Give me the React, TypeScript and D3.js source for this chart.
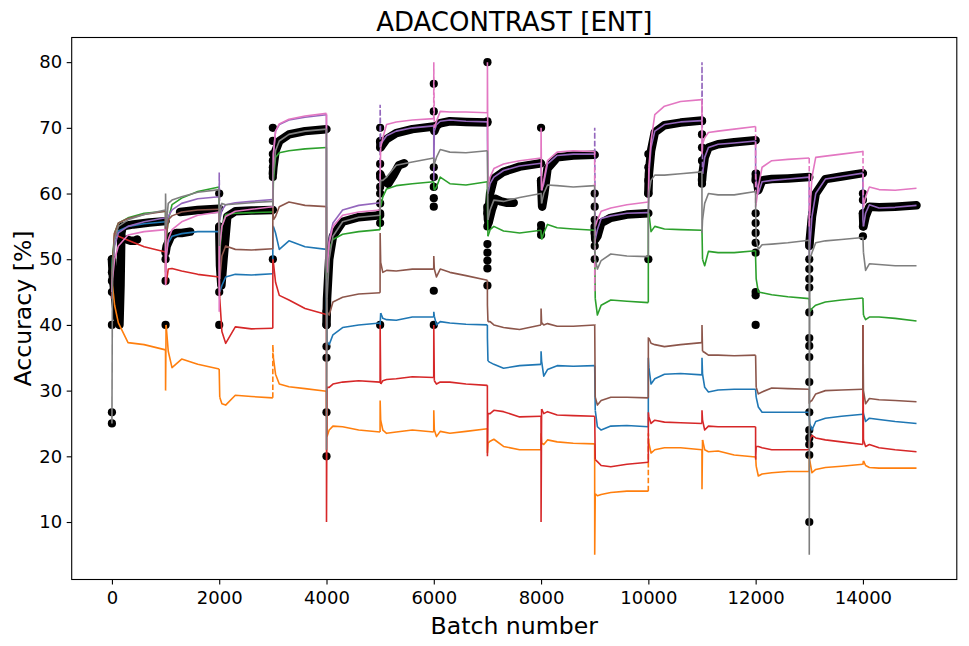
import React, { useEffect, useRef } from 'react';
import * as d3 from 'd3';

// batch offsets inside each 1000-batch segment at which values were read
const OFFSETS = [0, 10, 50, 120, 300, 600, 999];
const SEG_STARTS = [0, 1000, 2000, 3000, 4000, 5000, 6000, 7000, 8000, 9000, 10000, 11000, 12000, 13000, 14000];
const X_TICKS = [0, 2000, 4000, 6000, 8000, 10000, 12000, 14000];
const Y_TICKS = [10, 20, 30, 40, 50, 60, 70, 80];

const BLUE = [
  [48, 50, 53, 54.3, 55, 55.4, 55.7],
  [50, 51, 52.5, 53.5, 53.9, 54.2, 54.2],
  [46, 45, 46, 47.3, 47.7, 47.6, 47.8],
  [55, 55, 54, 51.5, 52.8, 51.9, 51.5],
  [42, 37.5, 37, 38.5, 39.6, 40, 40.3],
  [40, 41.8, 41, 40.8, 40.7, 41.2, 41.2],
  [42, 41.3, 40, 40.5, 40.3, 40.1, 40],
  [38, 34.5, 34.3, 34, 33.4, 33.8, 34],
  [36, 34.5, 32.2, 33.2, 33.8, 33.7, 33.8],
  [33.5, 27, 24.5, 24, 24.6, 24.7, 24.5],
  [35, 33.5, 31, 31.8, 32.5, 32.6, 32.4],
  [35, 32.5, 30.5, 29.8, 30.1, 30.2, 30.2],
  [30, 29, 27.5, 26.7, 26.7, 26.7, 26.7],
  [26, 25, 24, 25.3, 25.8, 26.1, 26.4],
  [27, 26.5, 25.3, 25.8, 25.6, 25.3, 25],
];
const ORANGE = [
  [47, 46, 43, 40.3, 37.3, 37, 36.2],
  [30, 40, 36, 33.5, 34.8, 34, 33.3],
  [33, 29, 28, 27.8, 29.3, 29.1, 28.9],
  [37, 35, 32.5, 31, 30.6, 30.3, 29.9],
  [28, 23, 24, 24.6, 24.5, 24, 23.7],
  [28.5, 25.5, 24, 23.5, 23.7, 24, 23.7],
  [27, 24, 23, 23.8, 23.5, 23.8, 24.2],
  [20.5, 22, 22.3, 22.6, 21.5, 21, 21],
  [23.5, 22, 21.8, 22.5, 22.2, 22, 21.9],
  [5, 14.3, 14, 14.2, 14.5, 14.7, 14.7],
  [23.5, 22, 20.5, 21, 21.3, 21.3, 21],
  [15, 22.5, 21, 20.7, 20.8, 20.2, 19.9],
  [20, 18.5, 17, 17.3, 17.5, 17.7, 17.7],
  [20, 19.3, 17.5, 18, 18.3, 18.5, 18.8],
  [18.8, 19.3, 18.6, 18.3, 18.2, 18.2, 18.2],
];
const GREEN = [
  [47, 50, 54, 55.5, 56.3, 57, 57.3],
  [52, 53, 56, 58.3, 59.3, 60.3, 61],
  [50, 51, 55, 56.8, 57, 57.1, 57.2],
  [57, 62, 65.5, 66.2, 66.5, 66.8, 67],
  [47, 48, 51.5, 53, 53.8, 54.2, 54.5],
  [58, 58, 59.5, 60.7, 61.2, 61.5, 61.8],
  [61, 60.5, 61, 62.5, 61.5, 61.3, 61.8],
  [58, 53.5, 54.5, 55, 54.3, 54, 54.4],
  [54, 53, 54, 55.3, 54.8, 54.6, 54.4],
  [52, 44, 41.5, 43, 43.8, 43.6, 43.4],
  [57, 57, 54.2, 55, 54.6, 54.5, 54.4],
  [54.4, 50, 49, 51.2, 51, 51, 51.3],
  [50, 47, 45, 44.9, 44.6, 44.3, 44],
  [44, 42, 42.5, 43, 43.5, 43.8, 44.1],
  [44, 41.5, 40.8, 41.2, 41.2, 41, 40.6],
];
const RED = [
  [44, 48, 54, 53.5, 52.9, 51.9, 51.1],
  [46.5, 46.2, 48.5, 48.6, 48.2, 47.7, 47.3],
  [47, 44, 39, 37.2, 39.7, 39.4, 39.5],
  [50, 49.5, 46.5, 44.5, 43.8, 42.5, 41.6],
  [10, 30.5, 30.5, 31, 31.3, 31.5, 31.3],
  [40, 31, 31.5, 31.7, 31.8, 32.1, 32],
  [40, 31.5, 31, 31.3, 31.3, 31, 30.8],
  [20, 26.5, 26.5, 27, 26.8, 26, 26.1],
  [10, 27.2, 26.5, 26.8, 26.3, 26.2, 26.1],
  [26, 19.5, 19.2, 18.6, 18.4, 18.8, 19.1],
  [26.7, 26, 25, 25.5, 25.2, 25.1, 25],
  [27, 25.5, 24, 24.6, 24.5, 24.5, 24.5],
  [19.5, 21.5, 21.5, 21.3, 21, 21, 21],
  [22, 22.5, 23.2, 22.8, 22.5, 22.2, 21.8],
  [40, 22.5, 21.5, 21.8, 21.3, 21, 20.7],
];
const PURPLE = [
  [46, 48, 52, 54, 55, 55.7, 56.3],
  [54, 54.5, 56.5, 57.5, 58.5, 59.2, 59.5],
  [63.2, 56, 57.5, 58.3, 58.6, 58.8, 59.1],
  [59, 66, 69.5, 70.5, 71.2, 71.6, 72],
  [50, 48, 53, 55.5, 57.5, 58.2, 58.6],
  [73.5, 67.5, 68, 68.8, 69.5, 70, 70.3],
  [62, 69.5, 70.5, 71, 71.2, 71, 70.9],
  [68, 60, 61.5, 62.5, 63.5, 64.2, 64.6],
  [64, 60.5, 61.5, 64.5, 65.8, 66, 66],
  [70, 53, 54.5, 56.2, 56.6, 57, 57.1],
  [57, 63, 67, 69.5, 70.5, 70.9, 71.1],
  [80, 63, 65.5, 67, 67.5, 67.7, 68],
  [63, 62, 60, 61.8, 62, 62.2, 62.5],
  [50, 52, 56.5, 60, 62.2, 62.6, 63.1],
  [56, 55, 57, 58.3, 57.8, 57.9, 58.2],
];
const BROWN = [
  [45, 49, 54, 55.5, 56.2, 56.8, 57.3],
  [48, 53, 56, 56.6, 57.2, 57.5, 57.6],
  [48, 47, 50.5, 52, 51.5, 51.4, 51.6],
  [59.3, 56, 56.5, 58, 58.7, 58.2, 58],
  [45, 42, 41.5, 43.5, 44.2, 44.7, 44.9],
  [54, 49.5, 48, 48.3, 48.2, 48.5, 48.5],
  [50.5, 48.5, 47.3, 48.5, 48, 47.5, 46.8],
  [43, 40.5, 40.5, 40, 39.6, 39.3, 40],
  [42.5, 40.3, 40, 40.2, 39.8, 39.8, 40],
  [40, 29, 27.8, 28.5, 29, 29, 28.9],
  [38, 38, 37.2, 37, 36.7, 37, 37.3],
  [40, 36, 35.8, 35.4, 35.4, 35.3, 35.4],
  [35, 30.5, 29.5, 29.8, 30.4, 30.3, 30.2],
  [28, 28.3, 28.5, 29.5, 30, 30.1, 30.2],
  [40, 30, 28, 28.8, 28.6, 28.5, 28.3],
];
const PINK = [
  [45, 47, 50, 52, 53.7, 54.2, 54.5],
  [46, 50, 53, 54.5, 55.7, 56.7, 57.2],
  [42, 52, 55, 56.5, 57.3, 57.6, 58],
  [58, 66, 69.5, 70.6, 71.3, 71.8, 72.2],
  [49, 48, 52.5, 55, 56.7, 57.2, 57.5],
  [62, 67, 68.5, 70.5, 70.9, 71.2, 71.4],
  [80, 70, 71, 72.5, 72.4, 72.4, 72.3],
  [80, 61, 62.5, 63.8, 64.5, 65, 65.4],
  [70, 60.5, 62, 65, 66.3, 66.5, 66.4],
  [45, 55, 56, 57.3, 57.8, 58.3, 58.7],
  [58.7, 64, 68, 72, 73.3, 74, 74.3],
  [66, 67.5, 68.5, 69.3, 69.5, 69.8, 70.2],
  [58, 58.5, 61, 64, 65, 65.2, 65.4],
  [55, 57, 62.5, 65.5, 65.7, 66, 66.4],
  [66.5, 58, 59.5, 61, 60.6, 60.5, 60.8],
];
const GRAY = [
  [25, 48, 53, 55, 56, 56.8, 57.5],
  [60, 55, 58.5, 59, 59.5, 60.2, 60.6],
  [52, 57, 58.5, 58.3, 58.4, 58.6, 58.8],
  [58, 63, 66.5, 68, 69, 69.5, 69.8],
  [21, 44, 50, 53.5, 55.7, 56.4, 56.7],
  [60, 62, 62, 62.5, 64.3, 64.8, 65.4],
  [64, 64.5, 65.5, 66.7, 66.3, 66.2, 66.5],
  [66, 56, 57.5, 59, 58.8, 59.4, 60],
  [60, 58.5, 60, 61.3, 61.2, 61, 61.2],
  [52, 50, 48.5, 49.8, 50.8, 50.5, 50.4],
  [57, 60, 62, 62.8, 62.8, 63, 63.3],
  [54, 56, 58.5, 60, 59.8, 59.8, 60.3],
  [58, 53, 51.5, 52.2, 52.3, 52.5, 52.9],
  [5, 50, 51, 52.5, 52.8, 53, 53.3],
  [53.3, 51, 48.3, 49.3, 49.2, 49, 49],
];

// thick black marker traces: [batch, accuracy]
const BLACK_TRACKS: [number, number][][] = [
  [[0, 50], [20, 47], [60, 44], [100, 41], [140, 40], [160, 46], [175, 54], [200, 55], [400, 55.3], [700, 55.6], [999, 55.8]],
  [[280, 53], [350, 52.8], [420, 52.8], [470, 53]],
  [[1000, 51], [1020, 52], [1100, 53.5], [1200, 54], [1300, 54], [1460, 54.2]],
  [[1270, 57.2], [1600, 57.5], [1999, 57.7]],
  [[2000, 55], [2015, 49], [2040, 46], [2080, 50], [2150, 56.5], [2300, 57.3], [2600, 57.4], [2999, 57.5]],
  [[3000, 63], [3010, 64], [3050, 66.5], [3120, 68], [3300, 69], [3600, 69.5], [3999, 69.8]],
  [[4000, 40], [4010, 44], [4050, 50], [4120, 53.5], [4300, 55.7], [4600, 56.4], [4999, 56.7]],
  [[5000, 68], [5010, 67], [5050, 67.5], [5120, 68.3], [5300, 69.2], [5600, 69.8], [5999, 70.2]],
  [[5000, 63], [5050, 62], [5150, 61.5], [5250, 62.8], [5350, 64.3], [5450, 64.6]],
  [[6000, 70], [6010, 69.5], [6050, 70.3], [6120, 70.7], [6300, 71], [6600, 70.9], [6999, 70.8]],
  [[7000, 58], [7010, 56], [7050, 60], [7120, 62.3], [7300, 63.3], [7600, 64.1], [7999, 64.6]],
  [[7020, 55.5], [7080, 57.5], [7150, 59.2], [7250, 58.8], [7350, 58.6], [7490, 58.6]],
  [[8000, 62], [8020, 58], [8060, 60], [8120, 63.8], [8300, 65.5], [8600, 65.8], [8999, 65.9]],
  [[9000, 55], [9010, 53], [9050, 53.5], [9120, 55.5], [9300, 56.3], [9600, 56.8], [9999, 57]],
  [[10000, 60], [10010, 63], [10050, 66.5], [10120, 69.3], [10300, 70.4], [10600, 70.8], [10999, 71.1]],
  [[11000, 62], [11010, 63], [11050, 65.5], [11120, 67], [11300, 67.5], [11600, 67.8], [11999, 68.1]],
  [[12000, 62], [12010, 63], [12050, 60.5], [12120, 62], [12300, 62.2], [12600, 62.3], [12999, 62.5]],
  [[13000, 52], [13010, 53], [13050, 56.5], [13120, 60], [13300, 62.2], [13600, 62.6], [13999, 63.1]],
  [[14000, 57], [14010, 55], [14050, 56.5], [14120, 58], [14300, 57.9], [14600, 58], [14999, 58.2]],
];

// isolated black markers at segment starts: [batch, accuracies]
const BLACK_DOTS: [number, number[]][] = [
  [0, [25, 26.7, 40, 45, 46.7, 48, 50]],
  [1000, [40, 46.7, 50]],
  [2000, [60, 45, 40]],
  [3000, [70, 68, 66, 65, 64, 62.5, 50]],
  [4000, [20, 26.7, 35, 36.7, 40, 42]],
  [5000, [70, 67, 64.5, 62.5, 61, 60, 58.5, 57, 55.5, 40]],
  [6000, [76.7, 72.5, 64, 62.5, 61, 59.3, 58, 45.2, 40]],
  [7000, [80, 71, 57, 55, 52.3, 51, 49.8, 48.6, 46]],
  [8000, [70, 62, 55.2, 54.5, 53.7]],
  [9000, [60, 58, 56, 54, 52, 50]],
  [10000, [60, 62, 64, 66, 50]],
  [11000, [71, 69, 67, 65, 63, 61.5]],
  [12000, [63, 57, 55.5, 54, 52.5, 51, 45, 44.5, 40]],
  [13000, [52.5, 50, 48.5, 47, 45.7, 41.9, 38, 36.8, 35.1, 31.3, 26.7, 24, 22.8, 21.8, 20.2, 10]],
  [14000, [60, 59, 57, 55, 53.5]],
];

const SERIES = [
  { color: '#1f77b4', values: BLUE, dashed: [] as number[] },
  { color: '#ff7f0e', values: ORANGE, dashed: [3, 10] },
  { color: '#2ca02c', values: GREEN, dashed: [] as number[] },
  { color: '#d62728', values: RED, dashed: [] as number[] },
  { color: '#9467bd', values: PURPLE, dashed: [2, 5, 9, 11] },
  { color: '#8c564b', values: BROWN, dashed: [] as number[] },
  { color: '#e377c2', values: PINK, dashed: [6, 9, 12, 13, 14] },
  { color: '#7f7f7f', values: GRAY, dashed: [] as number[] },
];

const W = 969;
const H = 646;
const LEFT = 71.7;
const RIGHT = 956.8;
const TOP = 37.5;
const BOTTOM = 579.5;
const FONT = 'DejaVu Sans, sans-serif';

export default function App() {
  const ref = useRef<SVGSVGElement>(null);

  useEffect(() => {
    const svg = d3.select(ref.current);
    svg.selectAll('*').remove();

    const x = d3.scaleLinear().domain([-750, 15750]).range([LEFT, RIGHT]);
    const y = d3.scaleLinear().domain([1.25, 83.75]).range([BOTTOM, TOP]);
    const line = d3
      .line<[number, number]>()
      .x((d) => x(d[0]))
      .y((d) => y(d[1]));

    svg
      .append('defs')
      .append('clipPath')
      .attr('id', 'plotclip')
      .append('rect')
      .attr('x', LEFT)
      .attr('y', TOP)
      .attr('width', RIGHT - LEFT)
      .attr('height', BOTTOM - TOP);

    const g = svg.append('g').attr('clip-path', 'url(#plotclip)');

    BLACK_TRACKS.forEach((t) => {
      g.append('path')
        .attr('d', line(t) || '')
        .attr('fill', 'none')
        .attr('stroke', '#000')
        .attr('stroke-width', 8.5)
        .attr('stroke-linejoin', 'round')
        .attr('stroke-linecap', 'round');
    });
    BLACK_DOTS.forEach(([b, vals]) => {
      vals.forEach((v) => {
        g.append('circle').attr('cx', x(b)).attr('cy', y(v)).attr('r', 4.1).attr('fill', '#000');
      });
    });

    SERIES.forEach((s) => {
      SEG_STARTS.forEach((start, k) => {
        const pts: [number, number][] = OFFSETS.map((o, j) => [start + o, s.values[k][j]]);
        const conn: [number, number][] =
          k > 0 ? [[SEG_STARTS[k - 1] + 999, s.values[k - 1][6]], pts[0], pts[1]] : [pts[0], pts[1]];
        g.append('path')
          .attr('d', line(conn) || '')
          .attr('fill', 'none')
          .attr('stroke', s.color)
          .attr('stroke-width', 1.6)
          .attr('stroke-dasharray', s.dashed.includes(k) ? '5.5,2.4' : null);
        g.append('path')
          .attr('d', line(pts.slice(1)) || '')
          .attr('fill', 'none')
          .attr('stroke', s.color)
          .attr('stroke-width', 1.6)
          .attr('stroke-linejoin', 'round');
      });
    });

    // axes
    const xAxis = svg
      .append('g')
      .attr('transform', `translate(0,${BOTTOM})`)
      .call(d3.axisBottom(x).tickValues(X_TICKS).tickFormat(d3.format('d')).tickSize(5).tickPadding(6.5));
    xAxis.select('.domain').remove();
    xAxis.selectAll('text').attr('font-size', 18).attr('font-family', FONT).attr('fill', '#000');
    xAxis.selectAll('line').attr('stroke', '#000').attr('stroke-width', 1.1);

    const yAxis = svg
      .append('g')
      .attr('transform', `translate(${LEFT},0)`)
      .call(d3.axisLeft(y).tickValues(Y_TICKS).tickFormat(d3.format('d')).tickSize(5).tickPadding(4.5));
    yAxis.select('.domain').remove();
    yAxis.selectAll('text').attr('font-size', 18).attr('font-family', FONT).attr('fill', '#000');
    yAxis.selectAll('line').attr('stroke', '#000').attr('stroke-width', 1.1);

    svg
      .append('rect')
      .attr('x', LEFT)
      .attr('y', TOP)
      .attr('width', RIGHT - LEFT)
      .attr('height', BOTTOM - TOP)
      .attr('fill', 'none')
      .attr('stroke', '#000')
      .attr('stroke-width', 1.1);

    svg
      .append('text')
      .attr('x', (LEFT + RIGHT) / 2)
      .attr('y', 31)
      .attr('text-anchor', 'middle')
      .attr('font-family', FONT)
      .attr('font-size', 26)
      .text('ADACONTRAST [ENT]');

    svg
      .append('text')
      .attr('x', (LEFT + RIGHT) / 2)
      .attr('y', 633.5)
      .attr('text-anchor', 'middle')
      .attr('font-family', FONT)
      .attr('font-size', 23.6)
      .text('Batch number');

    svg
      .append('text')
      .attr('transform', `translate(31,${(TOP + BOTTOM) / 2}) rotate(-90)`)
      .attr('text-anchor', 'middle')
      .attr('font-family', FONT)
      .attr('font-size', 23.6)
      .text('Accuracy [%]');
  }, []);

  return (
    <svg
      ref={ref}
      width={W}
      height={H}
      style={{ position: 'absolute', left: 0, top: 0, background: '#fff' }}
    />
  );
}
